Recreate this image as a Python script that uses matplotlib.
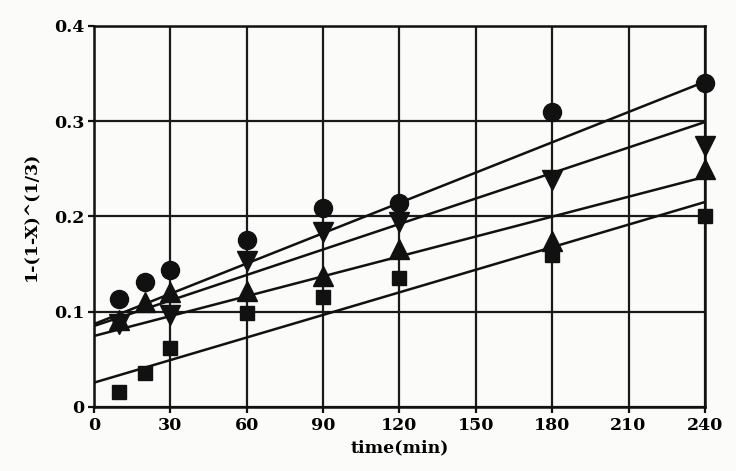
import matplotlib
matplotlib.use("Agg")
import matplotlib.pyplot as plt
import numpy as np

# Reaction time (min)
time_min = [10, 20, 30, 60, 90, 120, 180, 240]

# 1-(1-X)^(1/3) for the four runs (nan = no point recorded)
circles = [0.113, 0.131, 0.144, 0.175, 0.209, 0.214, 0.310, 0.340]
down_triangles = [0.087, float("nan"), 0.097, 0.153, 0.184, 0.194, 0.238, 0.274]
up_triangles = [0.091, 0.110, 0.121, 0.122, 0.137, 0.166, 0.174, 0.250]
squares = [0.016, 0.036, 0.062, 0.099, 0.115, 0.135, 0.159, 0.200]

# Fitted straight lines: intercept and slope for each run
line_intercepts = [0.087, 0.085, 0.0745, 0.0255]
line_slopes = [0.00106, 0.000892, 0.000696, 0.000790]

x_ticks = [0, 30, 60, 90, 120, 150, 180, 210, 240]
y_ticks = [0, 0.1, 0.2, 0.3, 0.4]
y_tick_labels = ["0", "0.1", "0.2", "0.3", "0.4"]

font = {"family": "DejaVu Serif", "weight": "bold"}

fig = plt.figure(figsize=(7.36, 4.71), dpi=100, facecolor="#fbfbfa")
ax = fig.add_axes([0.1277, 0.136, 0.830, 0.809])
ax.set_facecolor("#fbfbfa")

ax.set_xlim(0, 240)
ax.set_ylim(0, 0.4)
ax.set_xticks(x_ticks)
ax.set_xticklabels([str(t) for t in x_ticks], fontdict=font, fontsize=12.5)
ax.set_yticks(y_ticks)
ax.set_yticklabels(y_tick_labels, fontdict=font, fontsize=12.5)
ax.tick_params(axis="both", direction="out", length=4, width=1.6, color="#111111", pad=3)
ax.grid(True, color="#1a1a1a", linewidth=1.6)
ax.set_axisbelow(True)
for sp in ax.spines.values():
    sp.set_linewidth(1.8)
    sp.set_color("#111111")

xline = np.array([0, 240])
for b, m in zip(line_intercepts, line_slopes):
    ax.plot(xline, b + m * xline, color="#111111", linewidth=1.8, zorder=3)

mk = dict(color="#111111", linestyle="none", zorder=4, clip_on=False)
ax.plot(time_min, squares, marker="s", markersize=10, **mk)
ax.plot(time_min, up_triangles, marker="^", markersize=14, **mk)
ax.plot(time_min, down_triangles, marker="v", markersize=14, **mk)
ax.plot(time_min, circles, marker="o", markersize=13, **mk)

ax.set_xlabel("time(min)", fontdict=font, fontsize=12.5, labelpad=4)
ax.set_ylabel("1-(1-X)^(1/3)", fontdict=font, fontsize=12.5, labelpad=10)

fig.savefig("out.png", dpi=100, facecolor=fig.get_facecolor())
